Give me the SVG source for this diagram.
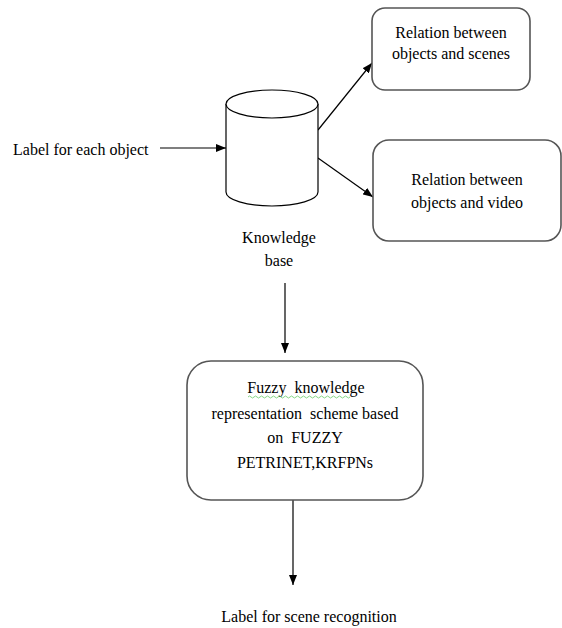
<svg xmlns="http://www.w3.org/2000/svg" width="562" height="628" viewBox="0 0 562 628">
<style>
.t{font-family:"Liberation Serif","Times New Roman",serif;font-size:16px;fill:#000;}
.m{text-anchor:middle;}
.box{fill:#fff;stroke:#555;stroke-width:1.6;}
.cyl{fill:#fff;stroke:#000;stroke-width:1.2;}
.c{stroke:#000;stroke-width:1.2;fill:none;}
</style>
<defs>
<marker id="ah" markerWidth="10" markerHeight="8" refX="10" refY="4" orient="auto" markerUnits="userSpaceOnUse">
<path d="M0,0 L10,4 L0,8 Z" fill="#000"/>
</marker>
</defs>
<rect width="562" height="628" fill="#fff"/>
<g id="connectors">
<line class="c" x1="160" y1="148" x2="226" y2="148" marker-end="url(#ah)"/>
<line class="c" x1="318" y1="130" x2="372" y2="63" marker-end="url(#ah)"/>
<line class="c" x1="318" y1="158" x2="373" y2="197" marker-end="url(#ah)"/>
<line class="c" x1="285" y1="283" x2="285" y2="353" marker-end="url(#ah)"/>
<line class="c" x1="293" y1="500" x2="293" y2="585" marker-end="url(#ah)"/>
</g>
<g id="label-each-object">
<text class="t" x="13" y="155">Label for each object</text>
</g>
<g id="knowledge-base">
<path class="cyl" d="M226,104 L226,192 A46,14 0 0 0 318,192 L318,104"/>
<ellipse class="cyl" cx="272" cy="104" rx="46" ry="14"/>
<text class="t m" x="279" y="243">Knowledge</text>
<text class="t m" x="279" y="266">base</text>
</g>
<g id="rel-scenes">
<rect class="box" x="372" y="8" width="158" height="82" rx="13"/>
<text class="t m" x="451" y="38">Relation between</text>
<text class="t m" x="451" y="59">objects and scenes</text>
</g>
<g id="rel-video">
<rect class="box" x="373" y="140" width="188" height="101" rx="16"/>
<text class="t m" x="467" y="185">Relation between</text>
<text class="t m" x="467" y="208">objects and video</text>
</g>
<g id="fuzzy">
<rect class="box" x="187" y="361" width="236" height="139" rx="24"/>
<text class="t m" x="306" y="393" xml:space="preserve">Fuzzy  knowledge</text>
<path d="M248,397 q1.5,-2 3,0 t3,0 t3,0 t3,0 t3,0 t3,0 t3,0 t3,0 t3,0 t3,0 t3,0 t3,0 t3,0 t3,0 t3,0 t3,0 t3,0 t3,0 t3,0 t3,0 t3,0 t3,0 t3,0 t3,0 t3,0 t3,0 t3,0 t3,0 t3,0 t3,0 t3,0 t3,0 t3,0 t3,0" fill="none" stroke="#6c6" stroke-width="0.8"/>
<text class="t m" x="305" y="419" xml:space="preserve">representation  scheme based</text>
<text class="t m" x="305" y="443" xml:space="preserve">on  FUZZY</text>
<text class="t m" x="305" y="468">PETRINET,KRFPNs</text>
</g>
<g id="label-scene">
<text class="t m" x="309" y="622">Label for scene recognition</text>
</g>
</svg>
